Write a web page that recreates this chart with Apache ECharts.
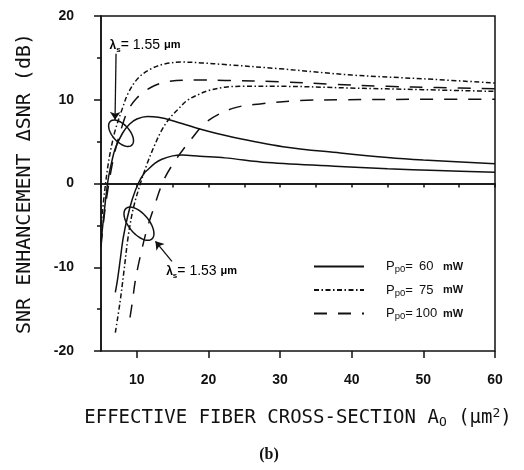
<!DOCTYPE html>
<html><head><meta charset="utf-8">
<script src="https://cdn.jsdelivr.net/npm/echarts@6/dist/echarts.min.js"></script>
<style>html,body{margin:0;padding:0;background:#fff}#c{width:524px;height:470px}</style>
</head><body><div id="c"></div>
<script>
// lambda_s = 1.55 um curves
const x155_60 = [5.0, 5.5, 6.0, 6.5, 7.0, 8.0, 9.0, 10.0, 11.5, 13.0, 15.0, 18.8, 23.0, 30.4, 38.4, 45, 50, 60];
const y155_60 = [-7.0, -3.0, 0.5, 2.6, 4.2, 6.0, 7.1, 7.7, 8.0, 7.9, 7.5, 6.5, 5.6, 4.4, 3.65, 3.1, 2.8, 2.35];
const x155_75 = [5.0, 5.5, 6.0, 6.5, 7.0, 8.0, 8.8, 10.2, 12.0, 14.0, 16.3, 19.0, 22.3, 30, 40, 50, 60];
const y155_75 = [-5.0, -1.0, 2.3, 4.6, 6.4, 9.0, 10.8, 12.6, 13.7, 14.3, 14.5, 14.4, 14.2, 13.7, 12.95, 12.5, 12.0];
const x155_100 = [5.0, 5.5, 6.0, 6.5, 7.0, 8.0, 8.8, 10.0, 11.1, 12.5, 14.4, 18.8, 22.3, 30, 37.4, 45, 52, 60];
const y155_100 = [-7.5, -3.5, -0.5, 2.0, 4.0, 7.0, 8.8, 10.2, 11.0, 11.7, 12.2, 12.35, 12.3, 12.15, 11.85, 11.6, 11.45, 11.3];
// lambda_s = 1.53 um curves
const x153_60 = [7.0, 7.3, 7.7, 8.1, 8.7, 9.4, 10.2, 11.0, 11.6, 12.5, 13.5, 15.0, 16.3, 18.8, 22.3, 28.2, 39, 45, 52, 60];
const y153_60 = [-13.0, -11.5, -9.0, -6.5, -4.0, -1.8, 0.0, 1.2, 1.7, 2.4, 2.9, 3.3, 3.4, 3.25, 3.06, 2.5, 2.0, 1.75, 1.55, 1.35];
const x153_75 = [7.0, 7.65, 8.2, 8.8, 9.5, 10.5, 11.5, 12.5, 13.5, 14.5, 15.8, 17.0, 18.8, 20.0, 22.3, 24.8, 30, 39.8, 50, 60];
const y153_75 = [-17.8, -14.2, -10.5, -6.3, -3.0, 0.0, 2.5, 4.6, 6.4, 7.7, 8.9, 9.9, 10.7, 11.1, 11.5, 11.6, 11.6, 11.4, 11.2, 11.0];
const x153_100 = [9.05, 9.4, 9.75, 10.4, 11.4, 12.3, 13.7, 15.3, 17.7, 19.8, 23.5, 27.2, 32.8, 38.8, 50, 60];
const y153_100 = [-16.0, -14.0, -11.8, -9.0, -5.5, -3.1, 0.3, 2.65, 5.4, 7.4, 9.0, 9.5, 9.9, 10.0, 10.05, 10.05];

const xLabelValues = [10, 20, 30, 40, 50, 60];
const powerNames = ['60', '75', '100'];

const zip = (xs, ys) => xs.map((x, i) => [x, ys[i]]);
const dashDot = [5, 2.5, 1.5, 2.5];
const dashed = [13, 11];
const styles = { '60': 'solid', '75': dashDot, '100': dashed };
const FONT = 'Liberation Sans';

function mk(name, xs, ys, extra) {
  return Object.assign({
    name: name, type: 'line', data: zip(xs, ys), symbol: 'none', smooth: 0.35,
    xAxisIndex: 0, yAxisIndex: 0,
    lineStyle: { color: '#111', width: 1.5, type: styles[name] },
    itemStyle: { color: '#111' }, silent: true, animation: false, z: 3
  }, extra || {});
}

const chart = echarts.init(document.getElementById('c'), null, { renderer: 'canvas' });

const option = {
  animation: false,
  backgroundColor: '#fff',
  grid: { left: 101, right: 29, top: 16, bottom: 119, show: true, borderColor: '#111', borderWidth: 1.5, backgroundColor: 'transparent' },
  legend: {
    data: powerNames, orient: 'vertical', left: 313, top: 260, padding: 0,
    itemWidth: 50, itemHeight: 14, itemGap: 9, selectedMode: false,
    itemStyle: { opacity: 0 },
    formatter: n => `{p|P}{sub|p0}{q|=}{n|${n}}{u| mW}`,
    textStyle: {
      rich: {
        p: { fontFamily: FONT, fontSize: 13, color: '#111', lineHeight: 16, padding: [0, 0, 0, 17] },
        q: { fontFamily: FONT, fontSize: 13, color: '#111', lineHeight: 16 },
        sub: { fontFamily: FONT, fontSize: 9.5, color: '#111', lineHeight: 8, verticalAlign: 'bottom' },
        n: { fontFamily: FONT, fontSize: 13, color: '#111', lineHeight: 16, width: 27, align: 'right' },
        u: { fontFamily: FONT, fontSize: 11, fontWeight: 'bold', color: '#111', lineHeight: 16 }
      }
    }
  },
  xAxis: [{
    type: 'value', min: 5, max: 60, interval: 5,
    name: '{t|EFFECTIVE FIBER CROSS-SECTION A}{sub|O}{t| (μm}{sup|2}{t|)}',
    nameLocation: 'middle', nameGap: 56,
    nameTextStyle: {
      rich: {
        t: { fontFamily: 'DejaVu Sans Mono', fontSize: 19, color: '#111', lineHeight: 22 },
        sub: { fontFamily: 'DejaVu Sans Mono', fontSize: 13, color: '#111', lineHeight: 10, verticalAlign: 'bottom' },
        sup: { fontFamily: 'DejaVu Sans Mono', fontSize: 13, color: '#111', lineHeight: 10, verticalAlign: 'top' }
      }
    },
    axisLine: { show: true, lineStyle: { color: '#111', width: 1.5 } },
    axisTick: { show: true, length: 4, lineStyle: { color: '#111', width: 1.5 } },
    axisLabel: { margin: 22, fontFamily: FONT, fontSize: 14, fontWeight: 'bold', color: '#111', formatter: v => (xLabelValues.indexOf(v) >= 0 ? String(v) : '') },
    splitLine: { show: false }
  }, {
    type: 'value', min: 5, max: 60, interval: 5, position: 'bottom',
    axisLine: { show: false },
    axisTick: { show: true, length: 7, customValues: xLabelValues, lineStyle: { color: '#111', width: 1.5 } },
    axisLabel: { show: false },
    splitLine: { show: false }
  }],
  yAxis: {
    type: 'value', min: -20, max: 20, interval: 10,
    name: 'SNR ENHANCEMENT ΔSNR (dB)', nameLocation: 'middle', nameGap: 66,
    nameTextStyle: { fontFamily: 'DejaVu Sans Mono', fontSize: 20, color: '#111' },
    axisLine: { show: true, lineStyle: { color: '#111', width: 1.5 } },
    axisTick: { show: true, length: 7, lineStyle: { color: '#111', width: 1.5 } },
    minorTick: { show: true, splitNumber: 2, length: 4, lineStyle: { color: '#111', width: 1.5 } },
    axisLabel: { margin: 27, fontFamily: FONT, fontSize: 14, fontWeight: 'bold', color: '#111' },
    splitLine: { show: false }
  },
  series: [
    mk('60', x155_60, y155_60, {
      markLine: {
        silent: true, symbol: ['none', 'arrow'], symbolSize: 8, animation: false,
        label: { show: false },
        lineStyle: { color: '#111', width: 1.3, type: 'solid' },
        data: [
          [{ coord: [7.1, 15.5] }, { coord: [6.96, 7.6] }],
          [{ coord: [14.9, -9.3] }, { coord: [12.6, -6.9] }]
        ]
      }
    }),
    mk('75', x155_75, y155_75, {
      markLine: {
        silent: true, symbol: ['none', 'none'], animation: false,
        label: { show: false },
        lineStyle: { color: '#111', width: 1.5, type: 'solid' },
        data: [{ yAxis: 0 }]
      }
    }),
    mk('100', x155_100, y155_100),
    mk('60', x153_60, y153_60),
    mk('75', x153_75, y153_75),
    mk('100', x153_100, y153_100)
  ]
};
chart.setOption(option);

// annotations anchored in data coordinates
const px = (x, y) => chart.convertToPixel({ gridIndex: 0 }, [x, y]);
function ellipsePts(cx, cy, a, b, rotDeg) {
  const c = px(cx, cy), r = rotDeg * Math.PI / 180, pts = [];
  for (let i = 0; i < 72; i++) {
    const t = i / 72 * 2 * Math.PI;
    const ex = a * Math.cos(t), ey = b * Math.sin(t);
    pts.push([c[0] + ex * Math.cos(r) - ey * Math.sin(r), c[1] + ex * Math.sin(r) + ey * Math.cos(r)]);
  }
  return pts;
}
const lamRich = {
  l: { fontFamily: FONT, fontSize: 12, fontWeight: 'bold', color: '#111' },
  s: { fontFamily: FONT, fontSize: 8, fontWeight: 'bold', color: '#111', verticalAlign: 'bottom', lineHeight: 8 },
  t: { fontFamily: FONT, fontSize: 14, color: '#111', lineHeight: 16 },
  u: { fontFamily: FONT, fontSize: 11, fontWeight: 'bold', color: '#111', lineHeight: 16 }
};
const t1 = px(6.2, 16.5), t2 = px(14.1, -10.5);
chart.setOption({
  graphic: [
    { type: 'polygon', shape: { points: ellipsePts(7.8, 6.0, 16, 8.5, 48) }, style: { fill: 'none', stroke: '#111', lineWidth: 1.5 }, z: 10, silent: true },
    { type: 'polygon', shape: { points: ellipsePts(10.3, -4.8, 20, 10, 50) }, style: { fill: 'none', stroke: '#111', lineWidth: 1.5 }, z: 10, silent: true },
    { type: 'text', x: t1[0], y: t1[1], style: { text: '{l|λ}{s|s}{t|= 1.55 }{u|μm}', rich: lamRich, verticalAlign: 'middle', align: 'left' }, z: 10, silent: true },
    { type: 'text', x: t2[0], y: t2[1], style: { text: '{l|λ}{s|s}{t|= 1.53 }{u|μm}', rich: lamRich, verticalAlign: 'middle', align: 'left' }, z: 10, silent: true },
    { type: 'text', x: 269, y: 455, style: { text: '(b)', font: 'bold 16px "Liberation Serif"', fill: '#111', align: 'center', verticalAlign: 'middle' }, silent: true }
  ]
});
</script>
</body></html>
